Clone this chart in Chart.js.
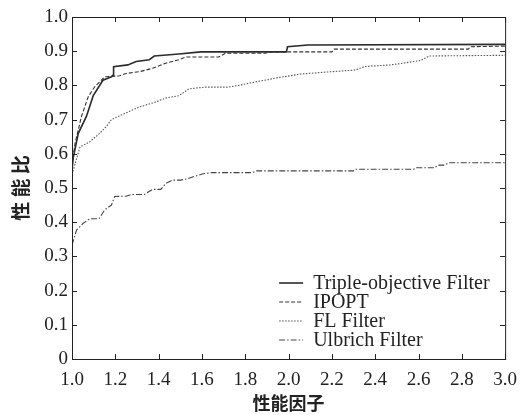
<!DOCTYPE html>
<html>
<head>
<meta charset="utf-8">
<script src="https://cdn.jsdelivr.net/npm/chart.js@4"></script>
<style>
  html, body { margin: 0; padding: 0; background: #fff; }
  #wrap { width: 527px; height: 415px; }
</style>
</head>
<body>
<div id="wrap"><canvas id="profile"></canvas></div>
<script>
// performance profile data
const seriesNames = ['Triple-objective Filter', 'IPOPT', 'FL Filter', 'Ulbrich Filter'];

const tripleX = [1.0, 1.006, 1.029, 1.067, 1.098, 1.143, 1.182, 1.19, 1.192, 1.258, 1.296, 1.357, 1.38, 1.494, 1.594, 1.99, 1.995, 2.09, 3.0];
const tripleY = [0.553, 0.59, 0.66, 0.71, 0.77, 0.815, 0.825, 0.83, 0.855, 0.86, 0.87, 0.875, 0.886, 0.892, 0.898, 0.898, 0.913, 0.918, 0.92];

const ipoptX = [1.0, 1.014, 1.044, 1.075, 1.105, 1.151, 1.22, 1.25, 1.311, 1.372, 1.433, 1.494, 1.525, 1.677, 1.708, 1.891, 1.92, 2.2, 2.21, 2.83, 2.84, 3.0];
const ipoptY = [0.57, 0.63, 0.71, 0.767, 0.796, 0.825, 0.828, 0.835, 0.84, 0.85, 0.865, 0.875, 0.883, 0.883, 0.894, 0.894, 0.898, 0.898, 0.906, 0.906, 0.913, 0.915];

const flX = [1.0, 1.014, 1.037, 1.082, 1.128, 1.159, 1.182, 1.25, 1.311, 1.38, 1.433, 1.494, 1.54, 1.616, 1.723, 1.769, 1.845, 1.906, 1.952, 1.998, 2.051, 2.196, 2.31, 2.35, 2.47, 2.52, 2.61, 2.65, 3.0];
const flY = [0.54, 0.57, 0.62, 0.635, 0.66, 0.68, 0.70, 0.72, 0.737, 0.75, 0.763, 0.77, 0.79, 0.795, 0.795, 0.80, 0.81, 0.817, 0.823, 0.827, 0.833, 0.84, 0.845, 0.855, 0.86, 0.864, 0.873, 0.886, 0.888];

const ulbrichX = [1.0, 1.021, 1.052, 1.082, 1.125, 1.151, 1.182, 1.197, 1.25, 1.273, 1.334, 1.372, 1.41, 1.433, 1.464, 1.502, 1.532, 1.601, 1.647, 1.83, 1.853, 2.30, 2.31, 2.578, 2.59, 2.675, 2.69, 2.72, 2.74, 3.0];
const ulbrichY = [0.333, 0.377, 0.397, 0.41, 0.41, 0.436, 0.45, 0.475, 0.476, 0.481, 0.481, 0.496, 0.496, 0.513, 0.523, 0.523, 0.527, 0.541, 0.545, 0.545, 0.55, 0.55, 0.555, 0.555, 0.559, 0.559, 0.567, 0.567, 0.574, 0.574];

const xTicks = [1.0, 1.2, 1.4, 1.6, 1.8, 2.0, 2.2, 2.4, 2.6, 2.8, 3.0];
const yTicks = [0, 0.1, 0.2, 0.3, 0.4, 0.5, 0.6, 0.7, 0.8, 0.9, 1.0];

function pts(xs, ys) {
  return xs.map((x, i) => ({ x: x, y: ys[i] }));
}

const serif = "'Liberation Serif', 'DejaVu Serif', serif";
const cjk = "'Noto Sans CJK SC', sans-serif";

const lineStyles = [
  { color: '#2b2b2b', width: 1.6, dash: [] },
  { color: '#333', width: 1.1, dash: [4, 2] },
  { color: '#555', width: 1.1, dash: [1.5, 1.5] },
  { color: '#444', width: 1.1, dash: [6, 2, 1.5, 2] }
];

const allData = [pts(tripleX, tripleY), pts(ipoptX, ipoptY), pts(flX, flY), pts(ulbrichX, ulbrichY)];

const datasets = seriesNames.map((name, i) => ({
  label: name,
  data: allData[i],
  borderColor: lineStyles[i].color,
  borderWidth: lineStyles[i].width,
  borderDash: lineStyles[i].dash,
  pointRadius: 0,
  fill: false,
  tension: 0
}));

// box, inward ticks on all four sides, and legend inside the plot
const frame = {
  id: 'frame',
  afterDraw(chart) {
    const ctx = chart.ctx;
    const a = chart.chartArea;
    const xs = chart.scales.x, ys = chart.scales.y;
    ctx.save();
    ctx.strokeStyle = '#222';
    ctx.lineWidth = 1;
    ctx.setLineDash([]);
    ctx.strokeRect(a.left + 0.5, a.top + 0.5, a.right - a.left, a.bottom - a.top);
    ctx.beginPath();
    xTicks.forEach(v => {
      const px = Math.round(xs.getPixelForValue(v)) + 0.5;
      ctx.moveTo(px, a.bottom); ctx.lineTo(px, a.bottom - 5);
      ctx.moveTo(px, a.top); ctx.lineTo(px, a.top + 5);
    });
    yTicks.forEach(v => {
      const py = Math.round(ys.getPixelForValue(v)) + 0.5;
      ctx.moveTo(a.left, py); ctx.lineTo(a.left + 5, py);
      ctx.moveTo(a.right, py); ctx.lineTo(a.right - 5, py);
    });
    ctx.stroke();

    // legend
    ctx.font = '20px ' + serif;
    ctx.textBaseline = 'middle';
    ctx.fillStyle = '#222';
    chart.data.datasets.forEach((ds, i) => {
      const y = a.bottom - 76 + i * 19;
      ctx.strokeStyle = ds.borderColor;
      ctx.lineWidth = ds.borderWidth;
      ctx.setLineDash(ds.borderDash);
      ctx.beginPath();
      ctx.moveTo(a.right - 226, y);
      ctx.lineTo(a.right - 202, y);
      ctx.stroke();
      ctx.fillText(ds.label, a.right - 192, y + 1);
    });
    ctx.restore();
  }
};

new Chart(document.getElementById('profile'), {
  type: 'line',
  data: { datasets: datasets },
  options: {
    responsive: true,
    maintainAspectRatio: false,
    animation: false,
    layout: { padding: { left: 0, right: 18, top: 17, bottom: 0 } },
    plugins: { legend: { display: false }, tooltip: { enabled: false } },
    scales: {
      x: {
        type: 'linear',
        min: 1, max: 3,
        afterFit(s) { s.height = 56; },
        afterBuildTicks(s) { s.ticks = xTicks.map(v => ({ value: v })); },
        grid: { display: false, drawTicks: false },
        border: { display: false },
        ticks: {
          padding: 10,
          color: '#222',
          font: { family: serif, size: 19 },
          callback: v => v.toFixed(1)
        },
        title: {
          display: true,
          text: '性能因子',
          color: '#222',
          font: { family: cjk, size: 18, weight: 'bold' },
          padding: { top: 0, bottom: 1 }
        }
      },
      y: {
        min: 0, max: 1,
        afterFit(s) { s.width = 72; },
        afterBuildTicks(s) { s.ticks = yTicks.map(v => ({ value: v })); },
        grid: { display: false, drawTicks: false },
        border: { display: false },
        ticks: {
          padding: 4,
          color: '#222',
          font: { family: serif, size: 19 },
          callback: v => v === 0 ? '0' : v.toFixed(1)
        },
        title: {
          display: true,
          text: '性 能 比',
          color: '#222',
          font: { family: cjk, size: 19, weight: 'bold' },
          padding: { top: 9, bottom: 0 }
        }
      }
    }
  },
  plugins: [frame]
});
</script>
</body>
</html>
